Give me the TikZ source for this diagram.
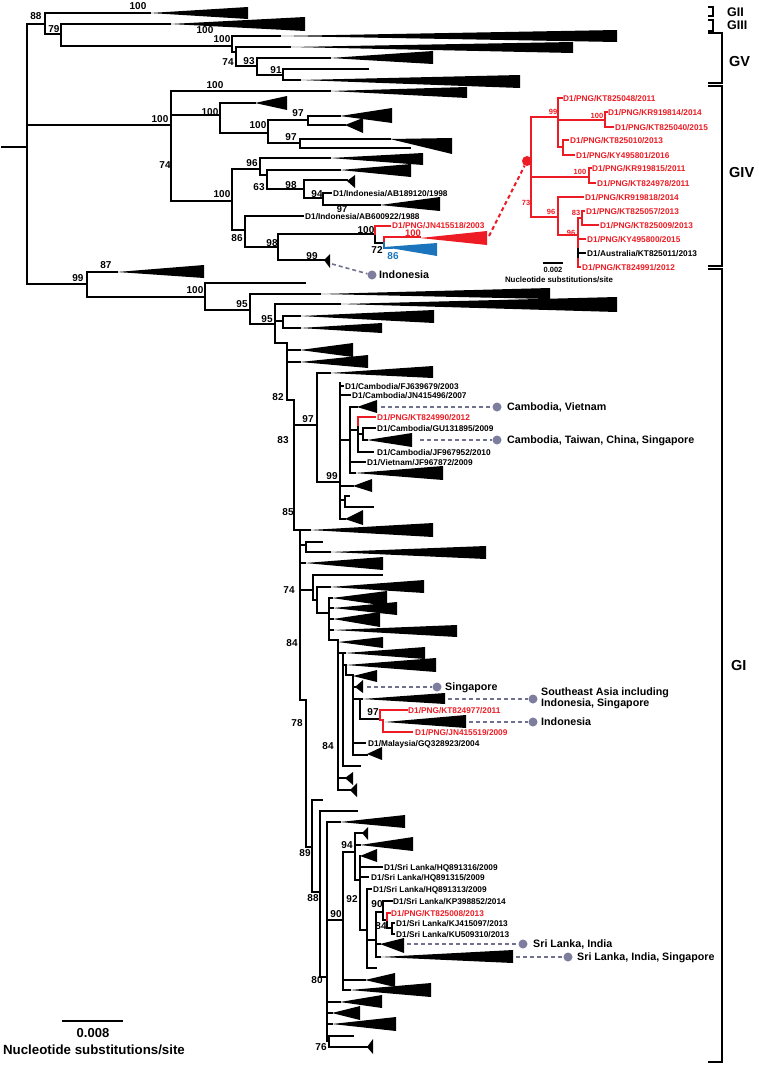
\documentclass[tikz,border=0pt]{standalone}
\usepackage{fontspec}
\setmainfont{Liberation Sans}
\definecolor{pngred}{RGB}{237,28,36}
\definecolor{cladeblue}{RGB}{28,117,188}
\definecolor{dotgray}{RGB}{125,125,158}
\definecolor{dashgray}{RGB}{112,112,145}
\begin{document}
\begin{tikzpicture}[x=1pt,y=-1pt,
  br/.style={line width=2.6pt,line cap=rect,line join=miter},
  rbr/.style={br,draw=pngred},
  ins/.style={line width=1.5pt,line cap=rect,draw=pngred},
  bs/.style={font=\fontsize{10}{10}\selectfont\bfseries,inner sep=0pt,text height=7.2pt,text depth=0pt},
  ibs/.style={font=\fontsize{7.5}{7.5}\selectfont\bfseries,inner sep=0pt,text height=5.4pt,text depth=0pt,text=pngred},
  tx/.style={font=\fontsize{8.3}{8.3}\selectfont\bfseries,anchor=west,inner sep=0pt,text height=6pt,text depth=0pt},
  rtx/.style={tx,text=pngred},
  rg/.style={font=\fontsize{10.7}{11}\selectfont\bfseries,anchor=west,inner sep=0pt,text height=7.7pt,text depth=0pt},
  grp/.style={font=\fontsize{14.5}{15}\selectfont\bfseries,anchor=west,inner sep=0pt,text height=10.4pt,text depth=0pt},
  grps/.style={font=\fontsize{12.5}{13}\selectfont\bfseries,anchor=west,inner sep=0pt,text height=9pt,text depth=0pt},
  dsh/.style={draw=dashgray,line width=1.6pt,dash pattern=on 4pt off 3pt},
  gdot/.style={circle,fill=dotgray,inner sep=0pt,minimum size=9pt},
  brk/.style={line width=2pt}]
\useasboundingbox (0,0) rectangle (759,1066);

% ---------- horizontal branches ----------
\foreach \y/\a/\b in {147/2/27,24/27/45,13/45/150,34/45/61,24/61/170,46/61/232,36/232/280,52/232/236,
  47/236/290,66/236/257,58/257/330,75/257/283,69/283/368,80/283/300,91/171/330,125/27/171,115/171/220,
  201/171/232,103/220/255,133/220/268,120/268/308,116/308/340,125/308/345,143/268/300,139/300/390,
  148/300/410,169/232/260,158/260/330,175/260/267,170/267/340,189/267/304,180/304/347,198/304/323,
  193/323/331,205/323/380,230/232/245,216/245/303,247/245/278,234/278/375,243/375/384,260/278/324,
  284/27/87,272/87/117,297/87/205,283/205/305,310/205/250,294/250/320,324/250/275,304/275/340,
  321/275/283,316/283/300,328/283/300,343/275/287,350/287/300,362/287/300,400/287/294,425/294/317,
  373/317/330,482/317/340,386/340/343,395/340/350,440/340/350,407/350/357,430/350/358,434/358/363,
  428/363/375,440/363/367,452/358/373,462/350/365,473/350/355,486/340/353,500/340/345,496/345/349,
  507/345/373,519/340/345,530/294/310,545/300/306,542/306/322,552/306/330,563/300/305,590/300/313,
  575/313/382,600/313/317,587/317/330,613/317/329,598/329/332,608/329/333,619/329/333,630/329/333,
  640/329/338,653/338/345,665/343/346,675/346/353,687/353/355,699/353/362,719/360/380,743/353/365,
  755/353/367,766/343/360,778/338/345,790/338/350,700/300/306,847/306/312,800/312/322,892/312/320,
  811/320/357,977/320/327,822/327/340,920/327/343,852/343/355,833/355/362,845/355/360,880/355/360,
  867/360/382,877/360/368,930/360/367,889/367/371,940/367/376,968/367/376,912/376/383,901/383/392,
  920/383/387,928/387/392,923/392/394,934/392/394,944/376/380,957/376/380,980/343/365,990/343/350,
  1002/327/340,1013/327/332,1024/327/332,1041/327/329,1036/329/353,1047/329/367}
  \draw[br] (\a,\y) -- (\b,\y);

% ---------- vertical branches ----------
\foreach \x/\a/\b in {27/24/284,45/13/34,61/24/46,232/36/52,236/47/66,257/58/75,283/69/80,171/91/201,
  220/103/133,268/120/143,308/116/125,300/139/148,232/169/230,260/158/175,267/170/189,304/180/198,
  323/193/205,245/216/247,278/234/260,375/234/243,87/272/297,205/283/310,250/294/324,275/304/343,
  283/316/328,287/343/400,294/400/530,317/373/482,340/383/519,350/407/473,358/425/452,363/428/440,
  345/496/507,300/530/700,306/542/552,313/575/600,317/587/613,329/598/640,338/640/790,343/653/766,
  346/665/675,353/675/755,360/699/719,306/700/847,312/800/892,320/811/977,327/822/1041,343/852/990,
  355/833/880,360/856/930,367/889/968,376/912/957,383/901/920,387/920/928,392/923/934,329/1036/1047}
  \draw[br] (\x,\a) -- (\x,\b);

% ---------- collapsed clades ----------
\foreach \a/\y/\e/\t/\b in {150/13/248/7/19,170/24/305/17/31,280/36/617/30/42,290/47/573/42/53,
  330/58/433/51/64,300/80/520/75/88,330/91/467/87/98,255/103/287/96/110,340/116/392/108/123,
  345/125/363/118/133,390/139/452/138/154,330/158/423/153/165,340/170/411/164/177,347/181/355/175/188,
  380/205/440/197/211,324/260/330/254/268,117/272/204/265/278,320/294/550/288/299,340/304/617/297/312,
  300/316/434/310/323,300/328/382/323/333,300/350/353/343/357,300/362/368/355/368,330/373/433/366/378,
  357/407/377/400/413,367/440/412/433/447,355/473/443/466/480,353/486/372/479/492,345/519/363/510/525,
  310/530/433/523/537,330/552/486/546/559,305/563/383/557/570,330/587/424/580/593,332/598/387/591/606,
  333/608/397/602/615,333/619/380/612/627,333/630/457/625/637,338/642/383/637/648,345/653/425/647/659,
  346/665/436/658/672,353/676/377/670/682,355/687/363/680/693,362/699/445/693/704,385/722/466/715/728,
  367/754/382/747/760,345/778/353/772/785,350/790/357/783/797,340/822/405/815/828,362/833/368/827/840,
  360/845/413/837/851,360/856/377/849/862,380/944/404/938/953,380/957/513/950/963,365/980/395/973/987,
  350/990/431/983/997,340/1002/382/995/1008,332/1013/360/1006/1020,332/1024/396/1017/1031,
  367/1047/373/1039/1054}
  \fill (\a,\y) -- (\e,\t) -- (\e,\b) -- cycle;

% ---------- red / blue parts of the main tree ----------
\draw[rbr] (375,234) -- (375,226) -- (390,226);
\draw[rbr] (384,243) -- (384,237) -- (420,237);
\fill[pngred] (420,238) -- (487,231) -- (487,245) -- cycle;
\draw[br,draw=cladeblue] (384,243) -- (384,248) -- (392,248);
\fill[cladeblue] (384,247) -- (437,243) -- (437,256) -- cycle;
\draw[rbr] (358,425) -- (358,417) -- (375,417);
\draw[rbr] (407,710) -- (380,710) -- (380,720) -- (383,720) -- (383,732) -- (412,732);
\draw[rbr] (387,920) -- (387,913) -- (390,913);

% ---------- bootstrap values ----------
\foreach \x/\y/\t [count=\i] in {36/16/88,138/6/100,54/29/79,205/30/100,222/39/100,228/62/74,249/61/93,
  276/70/91,215/85/100,160/119/100,210/112/100,258/125/100,298/113/97,291/137/97,165/165/74,222/194/100,
  252/163/96,259/187/63,291/185/98,317/194/94,237/238/86,272/243/98,366/230/100,377/250/72,
  312/256/99,78/278/99,106/265/87,195/290/100,242/304/95,267/319/95,278/397/82,308/419/97,283/440/83,
  332/476/99,288/512/85,289/590/74,292/643/84,328/746/84,297/723/78,373/712/97,305/853/89,313/898/88,
  347/845/94,336/914/90,352/899/92,377/904/90,381/926/84,317/980/80,321/1047/76}
  \node[bs] (bs\i) at (\x,\y) {\t};
\node[bs,font=\fontsize{9.3}{9.3}\selectfont\bfseries,text height=6.6pt] (bs97b) at (342,209.4) {97};
\node[bs,font=\fontsize{9.5}{9.5}\selectfont\bfseries,text height=6.8pt,text=pngred] (bsred) at (413,233) {100};
\node[bs,text=cladeblue] (bsblue) at (393,256) {86};

% ---------- taxon labels ----------
\node[tx] (t1) at (333,193) {D1/Indonesia/AB189120/1998};
\node[tx] (t2) at (305,216.5) {D1/Indonesia/AB600922/1988};
\node[rtx] (t3) at (392,225.5) {D1/PNG/JN415518/2003};
\node[tx] (t4) at (345,386) {D1/Cambodia/FJ639679/2003};
\node[tx] (t5) at (352,395) {D1/Cambodia/JN415496/2007};
\node[rtx] (t6) at (377,417) {D1/PNG/KT824990/2012};
\node[tx] (t7) at (377,428) {D1/Cambodia/GU131895/2009};
\node[tx] (t8) at (377,452) {D1/Cambodia/JF967952/2010};
\node[tx] (t9) at (367,462) {D1/Vietnam/JF967872/2009};
\node[rtx] (t10) at (408,710) {D1/PNG/KT824977/2011};
\node[rtx] (t11) at (415,732) {D1/PNG/JN415519/2009};
\node[tx] (t12) at (368,743) {D1/Malaysia/GQ328923/2004};
\node[tx] (t13) at (384,867) {D1/Sri Lanka/HQ891316/2009};
\node[tx] (t14) at (371,877) {D1/Sri Lanka/HQ891315/2009};
\node[tx] (t15) at (373,889) {D1/Sri Lanka/HQ891313/2009};
\node[tx] (t16) at (393,901) {D1/Sri Lanka/KP398852/2014};
\node[rtx] (t17) at (391,913) {D1/PNG/KT825008/2013};
\node[tx] (t18) at (396,923) {D1/Sri Lanka/KJ415097/2013};
\node[tx] (t19) at (396,934) {D1/Sri Lanka/KU509310/2013};

% ---------- geographic annotations ----------
\node[gdot] (d1) at (372,275) {};
\node[gdot] (d2) at (497,407) {};
\node[gdot] (d3) at (497,440) {};
\node[gdot] (d4) at (437,687) {};
\node[gdot] (d5) at (533,699) {};
\node[gdot] (d6) at (533,722) {};
\node[gdot] (d7) at (523,944) {};
\node[gdot] (d8) at (568,957) {};
\coordinate (c1) at (332,264);
\coordinate (c2) at (381,407);
\coordinate (c3) at (420,440);
\coordinate (c4) at (367,687);
\coordinate (c5) at (448,699);
\coordinate (c6) at (469,722);
\coordinate (c7) at (407,944);
\coordinate (c8) at (516,957);
\foreach \i in {1,...,8} \draw[dsh] (c\i) -- (d\i);
\node[rg] (r1) at (379,275) {Indonesia};
\node[rg] (r2) at (507,407) {Cambodia, Vietnam};
\node[rg] (r3) at (507,440) {Cambodia, Taiwan, China, Singapore};
\node[rg] (r4) at (445,687) {Singapore};
\node[rg] (r5a) at (541,692) {Southeast Asia including};
\node[rg] (r5b) at (541,703) {Indonesia, Singapore};
\node[rg] (r6) at (541,722) {Indonesia};
\node[rg] (r7) at (533,944) {Sri Lanka, India};
\node[rg] (r8) at (577,957) {Sri Lanka, India, Singapore};

% ---------- inset (GIV PNG lineage) ----------
\node[circle,fill=pngred,inner sep=0pt,minimum size=10pt] (rdot) at (527,161) {};
\coordinate (rtip) at (489,236);
\draw[draw=pngred,line width=2pt,dash pattern=on 4pt off 3pt] (rtip) -- (rdot);
\foreach \y/\a/\b in {117/531/558,98/558/562,120/558/605,112/605/607,127/605/613,147/558/563,
  140/563/568,155/563/574,177/531/589,168/589/591,183/589/595,217/531/558,197/558/583,235/558/578,
  218/578/582,211/582/584,225/582/598,239/578/585,267/578/580}
  \draw[ins] (\a,\y) -- (\b,\y);
\foreach \x/\a/\b in {531/117/217,558/98/147,605/112/127,563/140/155,589/168/183,558/197/235,
  578/218/267,582/211/225}
  \draw[ins] (\x,\a) -- (\x,\b);
\draw[line width=1.5pt,line cap=rect] (578,249) -- (578,257);
\draw[line width=1.5pt,line cap=rect] (578,253) -- (585,253);
\node[rtx] (i1) at (563,98) {D1/PNG/KT825048/2011};
\node[rtx] (i2) at (608,112) {D1/PNG/KR919814/2014};
\node[rtx] (i3) at (615,127) {D1/PNG/KT825040/2015};
\node[rtx] (i4) at (570,140) {D1/PNG/KT825010/2013};
\node[rtx] (i5) at (576,155) {D1/PNG/KY495801/2016};
\node[rtx] (i6) at (592,168) {D1/PNG/KR919815/2011};
\node[rtx] (i7) at (597,183) {D1/PNG/KT824978/2011};
\node[rtx] (i8) at (585,197) {D1/PNG/KR919818/2014};
\node[rtx] (i9) at (586,211) {D1/PNG/KT825057/2013};
\node[rtx] (i10) at (600,225) {D1/PNG/KT825009/2013};
\node[rtx] (i11) at (587,239) {D1/PNG/KY495800/2015};
\node[tx] (i12) at (587,253) {D1/Australia/KT825011/2013};
\node[rtx] (i13) at (582,267) {D1/PNG/KT824991/2012};
\foreach \x/\y/\t [count=\i] in {553/112/99,597/116/100,580/172/100,526/203/73,551/212/96,576/213/83,571/233/96}
  \node[ibs] (ib\i) at (\x,\y) {\t};
\draw[line width=1.3pt] (543,263) -- (563,263);
\node[font=\fontsize{7.5}{7.5}\selectfont\bfseries,inner sep=0pt] (is1) at (553,270) {0.002};
\node[font=\fontsize{7.9}{7.9}\selectfont\bfseries,inner sep=0pt] (is2) at (559,280) {Nucleotide substitutions/site};

% ---------- genotype brackets ----------
\draw[brk] (708,7) -- (713,7) -- (713,16) -- (708,16);
\draw[brk] (708,20) -- (713,20) -- (713,31) -- (708,31);
\draw[brk] (708,33) -- (722,33) -- (722,83) -- (708,83);
\draw[brk] (708,86) -- (722,86) -- (722,266) -- (708,266);
\draw[brk] (708,269) -- (722,269) -- (722,1062) -- (708,1062);
\node[grps] (g2) at (727,12) {GII};
\node[grps] (g3) at (727,25) {GIII};
\node[grp] (g5) at (729,61) {GV};
\node[grp] (g4) at (729,172) {GIV};
\node[grp] (g1) at (731,665) {GI};

% ---------- main scale bar ----------
\draw[line width=2.4pt] (62,1021) -- (123,1021);
\node[font=\fontsize{13}{13}\selectfont\bfseries,inner sep=0pt] (s1) at (93,1033) {0.008};
\node[font=\fontsize{13.3}{13.3}\selectfont\bfseries,inner sep=0pt] (s2) at (94,1050) {Nucleotide substitutions/site};
\end{tikzpicture}
\end{document}
